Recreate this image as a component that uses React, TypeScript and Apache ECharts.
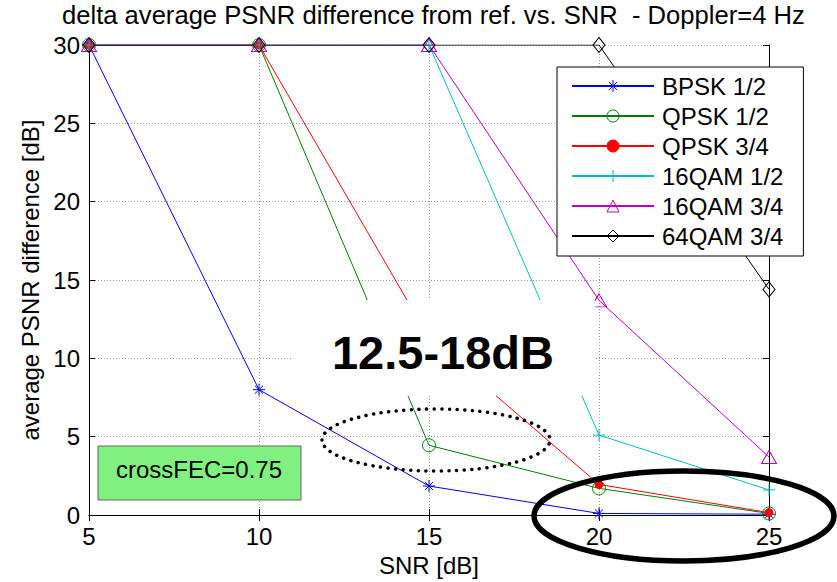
import React, { useEffect, useRef } from "react";
import * as echarts from "echarts";

const snr = [5, 10, 15, 20, 25];
const bpsk12 = [30, 8.0, 1.85, 0.1, 0.05];
const qpsk12 = [30, 30, 4.45, 1.7, 0.1];
const qpsk34 = [30, 30, 11.3, 1.95, 0.15];
const qam16_12 = [30, 30, 30, 5.1, 1.6];
const qam16_34 = [30, 30, 30, 13.7, 3.7];
const qam64_34 = [30, 30, 30, 30, 14.4];

const seriesNames = ["BPSK 1/2", "QPSK 1/2", "QPSK 3/4", "16QAM 1/2", "16QAM 3/4", "64QAM 3/4"];
const xTicks = [5, 10, 15, 20, 25];

const FONT = "'Liberation Sans', Arial, Helvetica, sans-serif";
const ASTERISK = "path://M5 0 L5 10 M0 5 L10 5 M1.6 1.6 L8.4 8.4 M1.6 8.4 L8.4 1.6";
const PLUS = "path://M5 0 L5 10 M0 5 L10 5";

function mk(name: string, vals: number[], color: string, symbol: string, size: number | number[], filled: boolean) {
  return {
    name,
    type: "line",
    data: snr.map((x, i) => [x, vals[i]]),
    symbol,
    symbolSize: size,
    showSymbol: true,
    lineStyle: { color, width: 1 },
    itemStyle: {
      color: filled ? color : "rgba(0,0,0,0)",
      borderColor: color,
      borderWidth: 1,
    },
    emphasis: { disabled: true },
  };
}

export default function App() {
  const ref = useRef<HTMLDivElement>(null);
  useEffect(() => {
    document.body.style.margin = "0";
    const chart = echarts.init(ref.current!, undefined, { renderer: "svg" });
    const axisCommon = {
      type: "value",
      axisLine: { show: true, lineStyle: { color: "#000", width: 1 } },
      axisTick: { show: true, inside: true, length: 6, lineStyle: { color: "#000" } },
    };
    chart.setOption({
      animation: false,
      backgroundColor: "#fff",
      title: {
        text: "delta average PSNR difference from ref. vs. SNR  - Doppler=4 Hz",
        left: 62,
        top: 2,
        padding: 0,
        textStyle: { fontSize: 25.6, fontWeight: "normal", color: "#000", fontFamily: FONT },
      },
      grid: { left: 89, top: 45, width: 680, height: 474, containLabel: false },
      legend: {
        orient: "vertical",
        left: 557,
        top: 67,
        padding: [7, 20, 8, 14],
        itemWidth: 82,
        itemHeight: 15,
        itemGap: 6,
        backgroundColor: "#fff",
        borderColor: "#000",
        borderWidth: 1,
        borderRadius: 0,
        data: seriesNames,
        itemStyle: { borderWidth: 1 },
        textStyle: { fontSize: 24, color: "#000", fontFamily: FONT, padding: [0, 0, 0, 3] },
      },
      xAxis: [
        {
          ...axisCommon,
          min: 5,
          max: 25,
          interval: 5,
          position: "bottom",
          name: "SNR [dB]",
          nameLocation: "middle",
          nameGap: 38,
          nameTextStyle: { fontSize: 24, color: "#000", fontFamily: FONT },
          axisLabel: { show: true, margin: 9, fontSize: 24, color: "#000", fontFamily: FONT, formatter: (v: number) => (xTicks.includes(v) ? String(v) : "") },
          splitLine: { show: true, lineStyle: { color: "#999", width: 1, type: [1, 2] } },
        },
        {
          ...axisCommon,
          min: 5,
          max: 25,
          interval: 5,
          position: "top",
          axisLabel: { show: false },
          splitLine: { show: false },
        },
      ],
      yAxis: [
        {
          ...axisCommon,
          min: 0,
          max: 30,
          interval: 5,
          position: "left",
          name: "average PSNR difference [dB]",
          nameLocation: "middle",
          nameGap: 46,
          nameTextStyle: { fontSize: 24, color: "#000", fontFamily: FONT },
          axisLabel: { show: true, margin: 9, fontSize: 24, color: "#000", fontFamily: FONT },
          splitLine: { show: true, lineStyle: { color: "#999", width: 1, type: [1, 2] } },
        },
        {
          ...axisCommon,
          min: 0,
          max: 30,
          interval: 5,
          position: "right",
          axisLabel: { show: false },
          splitLine: { show: false },
        },
      ],
      series: [
        mk(seriesNames[0], bpsk12, "#0000ff", ASTERISK, 12, false),
        mk(seriesNames[1], qpsk12, "#008000", "circle", 13, false),
        mk(seriesNames[2], qpsk34, "#ff0000", "circle", 8, true),
        mk(seriesNames[3], qam16_12, "#00bfbf", PLUS, 12, false),
        mk(seriesNames[4], qam16_34, "#bf00bf", "triangle", [15, 13], false),
        mk(seriesNames[5], qam64_34, "#000000", "diamond", [12, 15], false),
      ],
      graphic: [
        {
          type: "rect",
          z: 100,
          shape: { x: 293, y: 300, width: 302, height: 96 },
          style: { fill: "#fff" },
        },
        {
          type: "text",
          z: 101,
          x: 443,
          y: 352,
          style: {
            text: "12.5-18dB",
            fill: "#000",
            font: `bold 47px ${FONT}`,
            textAlign: "center",
            textVerticalAlign: "middle",
          },
        },
        {
          type: "ellipse",
          z: 102,
          shape: { cx: 436, cy: 440, rx: 114, ry: 31 },
          style: { fill: "none", stroke: "#000", lineWidth: 3.5, lineDash: [0.1, 7.5], lineCap: "round" },
        },
        {
          type: "rect",
          z: 100,
          shape: { x: 98, y: 446, width: 203, height: 54 },
          style: { fill: "#80f080", stroke: "#666", lineWidth: 1 },
        },
        {
          type: "text",
          z: 101,
          x: 199,
          y: 469,
          style: {
            text: "crossFEC=0.75",
            fill: "#000",
            font: `24px ${FONT}`,
            textAlign: "center",
            textVerticalAlign: "middle",
          },
        },
        {
          type: "ellipse",
          z: 102,
          shape: { cx: 684, cy: 516, rx: 150, ry: 45 },
          style: { fill: "none", stroke: "#000", lineWidth: 5.5 },
        },
      ],
    });
    return () => chart.dispose();
  }, []);
  return <div ref={ref} style={{ position: "fixed", left: 0, top: 0, width: 837, height: 582 }} />;
}
